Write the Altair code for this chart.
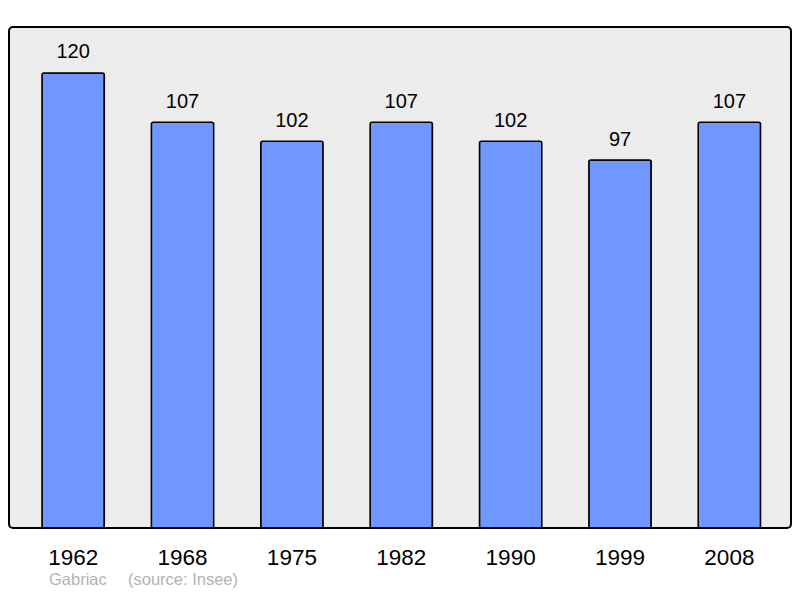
import altair as alt
import pandas as pd

years = ["1962", "1968", "1975", "1982", "1990", "1999", "2008"]
population = [120, 107, 102, 107, 102, 97, 107]
commune = "Gabriac"
source = "(source: Insee)"

df = pd.DataFrame({"year": years, "pop": population})

FONT = "Liberation Sans"

x = alt.X("year:N", sort=years, title=None,
          scale=alt.Scale(paddingInner=0.43, paddingOuter=0.29, align=0.52),
          axis=alt.Axis(labelAngle=0, ticks=False, tickSize=0, domain=False,
                        labelFontSize=22.5, labelColor="#000000", labelFont=FONT,
                        labelBaseline="alphabetic", labelPadding=36, grid=False))
y = alt.Y("pop:Q", title=None, scale=alt.Scale(domain=[0, 132.1], nice=False, zero=True),
          axis=None)

base = alt.Chart(df)

bars = base.mark_bar(color="#7097ff", stroke="#000000", strokeWidth=1.5,
                     cornerRadius=2).encode(x=x, y=y)

labels = base.mark_text(baseline="alphabetic", align="center", dy=-14.5,
                        fontSize=20, font=FONT, color="#000000").encode(
    x=alt.X("year:N", sort=years), y="pop:Q", text="pop:Q")

foot1 = alt.Chart(pd.DataFrame({"t": [commune]})).mark_text(
    align="left", baseline="alphabetic", fontSize=16.5, font=FONT, color="#b3b3b3"
).encode(x=alt.value(40), y=alt.value(558), text="t:N")

foot2 = alt.Chart(pd.DataFrame({"t": [source]})).mark_text(
    align="left", baseline="alphabetic", fontSize=16.5, font=FONT, color="#b3b3b3"
).encode(x=alt.value(119), y=alt.value(558), text="t:N")

chart = alt.layer(bars, labels, foot1, foot2).properties(
    width=782, height=501,
    autosize=alt.AutoSizeParams(type="none"),
    padding={"left": 1, "top": 19, "right": 1, "bottom": 62},
    background="#ffffff",
).configure_view(
    fill="#ececec", stroke="#000000", strokeWidth=2, cornerRadius=4
)

chart.save("out.html", embed_options={"renderer": "svg", "actions": False})
